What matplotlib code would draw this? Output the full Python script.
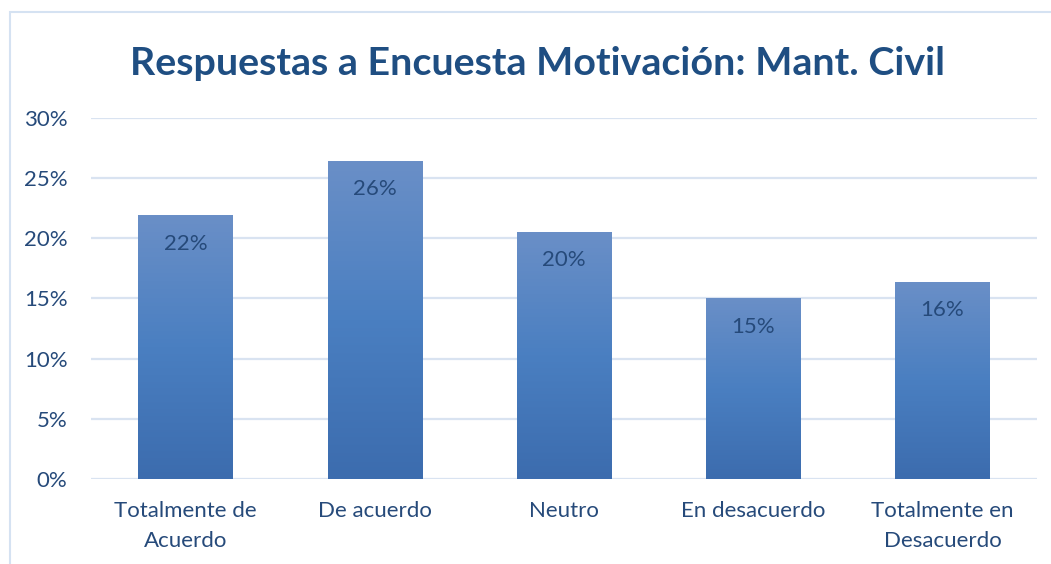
import matplotlib
matplotlib.use("Agg")
import matplotlib.pyplot as plt
import numpy as np
from matplotlib.colors import LinearSegmentedColormap
from matplotlib.patches import Rectangle

# data
categorias = ['Totalmente de\nAcuerdo', 'De acuerdo', 'Neutro', 'En desacuerdo', 'Totalmente en\nDesacuerdo']
porcentajes = [21.9, 26.4, 20.5, 15.0, 16.4]
etiquetas = ['22%', '26%', '20%', '15%', '16%']
yticks = [0, 5, 10, 15, 20, 25, 30]

plt.rcParams['font.family'] = ['Lato', 'DejaVu Sans']
text_color = '#264A7A'
title_color = '#1F4E82'
grid_color = '#D9E3F1'

fig = plt.figure(figsize=(10.51, 5.64), dpi=100)
ax = fig.add_axes([0.0866, 0.1507, 0.9001, 0.6401])

x = np.arange(len(categorias))
bars = ax.bar(x, porcentajes, width=0.5, color='#4F81BD', zorder=2)

# gradient fill, lighter at top (like Excel)
cmap = LinearSegmentedColormap.from_list('grad', ['#3C6CAE', '#4A7FC1', '#6A8FC7'])
grad = np.linspace(0, 1, 256).reshape(-1, 1)
for b in bars:
    x0, w, h = b.get_x(), b.get_width(), b.get_height()
    im = ax.imshow(grad, cmap=cmap, aspect='auto', origin='lower',
                   extent=[x0, x0 + w, 0, h], zorder=3)
    im.set_clip_path(b)

ax.set_xlim(-0.5, len(categorias) - 0.5)
ax.set_ylim(0, 30)
ax.set_yticks(yticks)
ax.set_yticklabels([f'{v}%' for v in yticks])
ax.set_xticks(x)
ax.set_xticklabels(categorias, linespacing=1.6)
ax.tick_params(axis='both', length=0, labelsize=16, labelcolor=text_color)
ax.tick_params(axis='y', pad=17)
ax.tick_params(axis='x', pad=16)
ax.grid(axis='y', color=grid_color, linewidth=1.6, zorder=0)
ax.set_axisbelow(True)
for s in ax.spines.values():
    s.set_visible(False)

for b, lab in zip(bars, etiquetas):
    ax.annotate(lab, xy=(b.get_x() + b.get_width() / 2, b.get_height()),
                xytext=(0, -13), textcoords='offset points',
                ha='center', va='top', fontsize=16, color=text_color, zorder=4)

fig.text(0.511, 0.887, 'Respuestas a Encuesta Motivación: Mant. Civil',
         ha='center', va='center', fontsize=28.4, fontweight='bold', color=title_color)

# chart border
fig.patches.append(Rectangle((9.5 / 1051, -0.1), 1.2, (564 - 12) / 564 + 0.1,
                             transform=fig.transFigure, fill=False,
                             edgecolor='#D5E2F2', linewidth=1.5))

fig.savefig('out.png', dpi=100)
